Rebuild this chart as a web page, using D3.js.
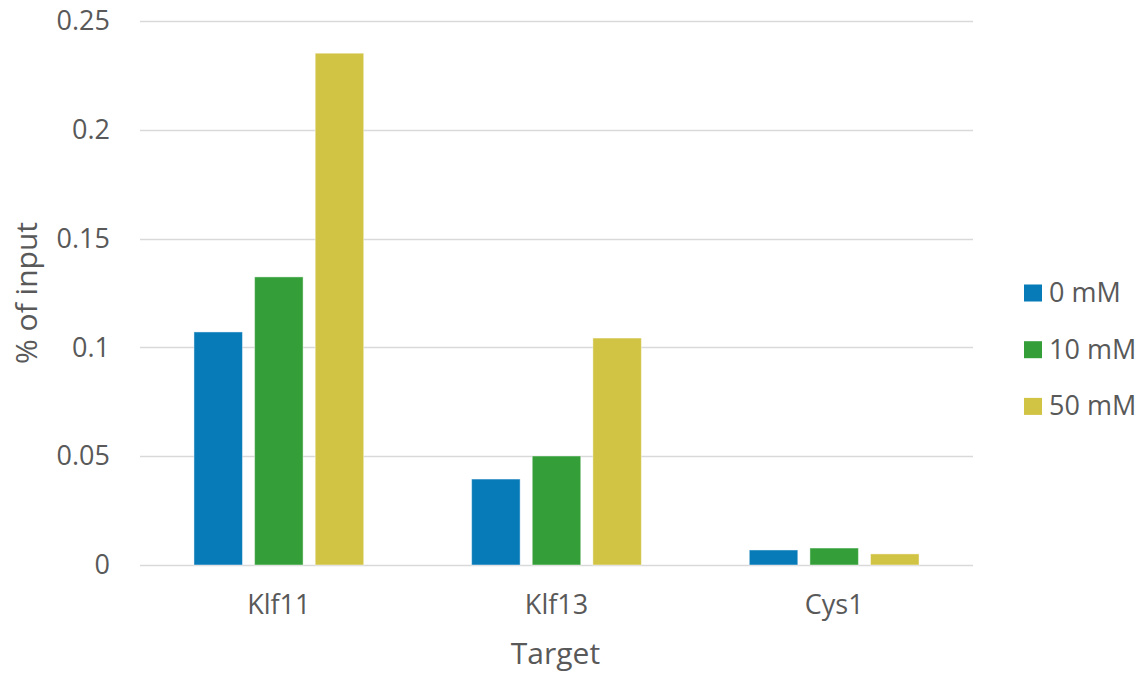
<!DOCTYPE html>
<html>
<head>
<meta charset="utf-8">
<script src="https://cdn.jsdelivr.net/npm/d3@7"></script>
<style>
  html, body { margin: 0; padding: 0; background: #fff; }
  svg text { font-family: "Open Sans", "Noto Sans", sans-serif; fill: #595959; }
</style>
</head>
<body>
<svg id="chart" width="1144" height="675"></svg>
<script>
// Target genes on the x axis
const categories = ["Klf11", "Klf13", "Cys1"];
// Treatment concentrations (one bar per series in each group)
const seriesNames = ["0 mM", "10 mM", "50 mM"];
// % of input for each series, in category order
const values0mM  = [0.1071, 0.0395, 0.0069];
const values10mM = [0.1324, 0.0501, 0.0078];
const values50mM = [0.2352, 0.1043, 0.0051];
const yTicks = [0, 0.05, 0.1, 0.15, 0.2, 0.25];
const yTickLabels = ["0", "0.05", "0.1", "0.15", "0.2", "0.25"];
const colors = ["#077ab8", "#349f38", "#d1c343"];

const seriesValues = [values0mM, values10mM, values50mM];

const svg = d3.select("#chart");
const plot = { left: 140, right: 973, top: 21, bottom: 565 };

const x = d3.scaleBand()
  .domain(categories)
  .range([plot.left, plot.right])
  .paddingInner(0)
  .paddingOuter(0);

const xInner = d3.scaleBand()
  .domain(seriesNames)
  .range([0, x.bandwidth()])
  .paddingInner(0.2)
  .paddingOuter(0.89);

const y = d3.scaleLinear()
  .domain([0, 0.25])
  .range([plot.bottom, plot.top]);

// Horizontal gridlines
svg.append("g")
  .selectAll("line")
  .data(yTicks)
  .join("line")
  .attr("x1", plot.left)
  .attr("x2", plot.right)
  .attr("y1", d => Math.round(y(d)) + 0.5)
  .attr("y2", d => Math.round(y(d)) + 0.5)
  .attr("stroke", "#d9d9d9")
  .attr("stroke-width", 1.3);

// Y axis tick labels
const yAxis = d3.axisLeft(y)
  .tickValues(yTicks)
  .tickFormat((d, i) => yTickLabels[i])
  .tickSize(0)
  .tickPadding(0);
const yg = svg.append("g")
  .attr("transform", `translate(${plot.left - 30},0)`)
  .call(yAxis);
yg.select(".domain").remove();
yg.selectAll("text")
  .attr("font-size", 27)
  .attr("font-family", "'Open Sans', sans-serif")
  .attr("fill", "#595959");

// Bars
const groups = svg.append("g")
  .selectAll("g")
  .data(categories)
  .join("g")
  .attr("transform", d => `translate(${x(d)},0)`);

groups.selectAll("rect")
  .data((c, ci) => seriesNames.map((s, si) => ({ s, si, v: seriesValues[si][ci] })))
  .join("rect")
  .attr("x", d => xInner(d.s))
  .attr("width", xInner.bandwidth())
  .attr("y", d => y(d.v))
  .attr("height", d => y(0) - y(d.v))
  .attr("fill", d => colors[d.si])
  .attr("stroke", "#ffffff")
  .attr("stroke-opacity", 0.45)
  .attr("stroke-width", 1);

// X axis category labels
const xAxis = d3.axisBottom(x).tickSize(0).tickPadding(0);
const xg = svg.append("g")
  .attr("transform", `translate(0,614)`)
  .call(xAxis);
xg.select(".domain").remove();
xg.selectAll("text")
  .attr("font-size", 27)
  .attr("font-family", "'Open Sans', sans-serif")
  .attr("fill", "#595959")
  .attr("y", 0)
  .attr("dy", 0);

// Axis titles
svg.append("text")
  .attr("x", (plot.left + plot.right) / 2 - 1)
  .attr("y", 664)
  .attr("text-anchor", "middle")
  .attr("font-size", 30)
  .text("Target");

svg.append("text")
  .attr("transform", `translate(37,${(plot.top + plot.bottom) / 2}) rotate(-90)`)
  .attr("text-anchor", "middle")
  .attr("font-size", 30)
  .text("% of input");

// Legend
const legend = svg.append("g")
  .selectAll("g")
  .data(seriesNames)
  .join("g")
  .attr("transform", (d, i) => `translate(1024,${293 + i * 56.7})`);

legend.append("rect")
  .attr("x", 0)
  .attr("y", -8.5)
  .attr("width", 18)
  .attr("height", 17)
  .attr("fill", (d, i) => colors[i]);

legend.append("text")
  .attr("x", 25)
  .attr("y", 0)
  .attr("dy", "0.33em")
  .attr("font-size", 27)
  .text(d => d);
</script>
</body>
</html>
